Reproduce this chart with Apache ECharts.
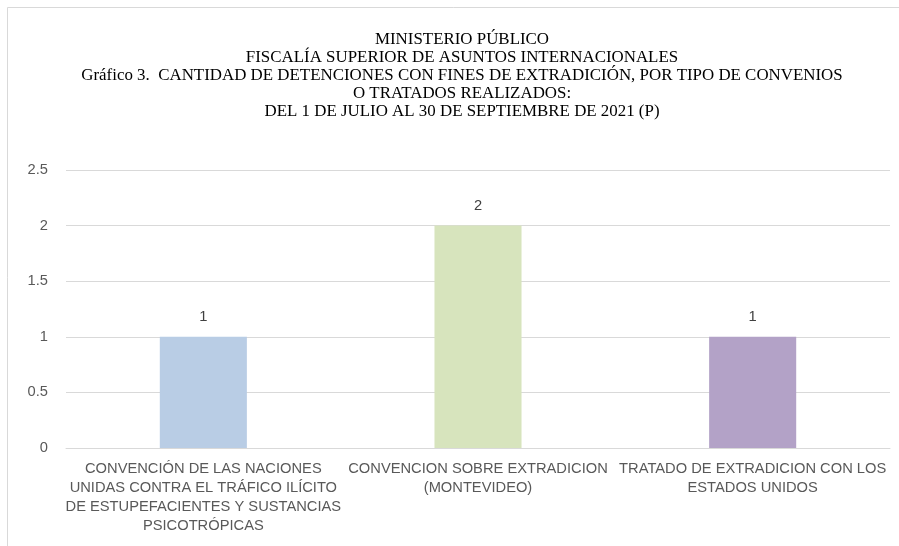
<!DOCTYPE html>
<html>
<head>
<meta charset="utf-8">
<script src="https://cdn.jsdelivr.net/npm/echarts@6/dist/echarts.min.js"></script>
<style>
html,body{margin:0;padding:0;background:#fff;}
#main{width:899px;height:546px;}
</style>
</head>
<body>
<div id="main"></div>
<script>
// datos del grafico
var categorias = [
	'CONVENCIÓN DE LAS NACIONES\nUNIDAS CONTRA EL TRÁFICO ILÍCITO\nDE ESTUPEFACIENTES Y SUSTANCIAS\nPSICOTRÓPICAS',
	'CONVENCION SOBRE EXTRADICION\n(MONTEVIDEO)',
	'TRATADO DE EXTRADICION CON LOS\nESTADOS UNIDOS'
];
var valores = [1, 2, 1];
var colores = ['#B9CDE5', '#D7E4BD', '#B3A2C7'];
var titulo = [
	'MINISTERIO PÚBLICO',
	'FISCALÍA SUPERIOR DE ASUNTOS INTERNACIONALES',
	'Gráfico 3.  CANTIDAD DE DETENCIONES CON FINES DE EXTRADICIÓN, POR TIPO DE CONVENIOS',
	'O TRATADOS REALIZADOS:',
	'DEL 1 DE JULIO AL 30 DE SEPTIEMBRE DE 2021 (P)'
];

var chart = echarts.init(document.getElementById('main'));
var option = {
	animation:false,
	graphic:[
		{type:'rect', shape:{x:7.5,y:7.5,width:900,height:560}, style:{fill:'#fff',stroke:'#d9d9d9',lineWidth:1}, z:-10},
		{type:'text', x:462, y:31, style:{
			text:titulo.join('\n'), align:'center', verticalAlign:'top',
			font:'16.9px "Liberation Serif", serif', lineHeight:18, fill:'#000'
		}}
	],
	grid:{left:66,right:9,top:170,bottom:98},
	xAxis:{
		type:'category',
		data:categorias,
		axisLine:{lineStyle:{color:'#d9d9d9'}},
		axisTick:{show:false},
		axisLabel:{interval:0,margin:11,color:'#595959',fontFamily:'Liberation Sans',fontSize:14.7,lineHeight:19}
	},
	yAxis:{
		type:'value',
		min:0,max:2.5,interval:0.5,
		axisLine:{show:false},
		axisTick:{show:false},
		splitLine:{lineStyle:{color:'#d9d9d9'}},
		axisLabel:{margin:18,color:'#595959',fontFamily:'Liberation Sans',fontSize:14.7}
	},
	series:[{
		type:'bar',
		barWidth:'31.7%',
		data:valores.map(function(v,i){return {value:v,itemStyle:{color:colores[i]}};}),
		label:{show:true,position:'top',distance:12,color:'#404040',fontFamily:'Liberation Sans',fontSize:14.7}
	}]
};
chart.setOption(option);
</script>
</body>
</html>
